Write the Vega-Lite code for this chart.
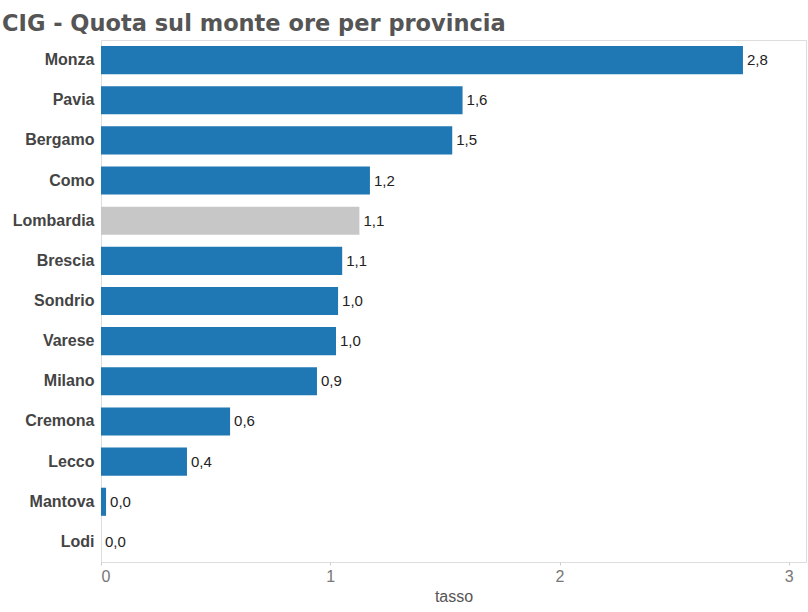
{
  "$schema": "https://vega.github.io/schema/vega-lite/v6.json",
  "width": 705,
  "height": 522,
  "autosize": "none",
  "padding": {"left": 101, "top": 40, "right": 2, "bottom": 50},
  "title": {
    "text": "CIG - Quota sul monte ore per provincia",
    "anchor": "start",
    "frame": "group",
    "dx": -99,
    "offset": -13,
    "baseline": "alphabetic",
    "font": "DejaVu Sans",
    "fontSize": 22.5,
    "fontWeight": "bold",
    "color": "#555555"
  },
  "data": {
    "values": [
      {"provincia": "Monza", "tasso": 2.80, "tipo": "provincia"},
      {"provincia": "Pavia", "tasso": 1.577, "tipo": "provincia"},
      {"provincia": "Bergamo", "tasso": 1.532, "tipo": "provincia"},
      {"provincia": "Como", "tasso": 1.173, "tipo": "provincia"},
      {"provincia": "Lombardia", "tasso": 1.127, "tipo": "regione"},
      {"provincia": "Brescia", "tasso": 1.052, "tipo": "provincia"},
      {"provincia": "Sondrio", "tasso": 1.034, "tipo": "provincia"},
      {"provincia": "Varese", "tasso": 1.025, "tipo": "provincia"},
      {"provincia": "Milano", "tasso": 0.942, "tipo": "provincia"},
      {"provincia": "Cremona", "tasso": 0.563, "tipo": "provincia"},
      {"provincia": "Lecco", "tasso": 0.375, "tipo": "provincia"},
      {"provincia": "Mantova", "tasso": 0.022, "tipo": "provincia"},
      {"provincia": "Lodi", "tasso": 0.0, "tipo": "provincia"}
    ]
  },
  "encoding": {
    "y": {
      "field": "provincia",
      "type": "nominal",
      "sort": "-x",
      "scale": {"paddingInner": 0.3, "paddingOuter": 0.15},
      "axis": {
        "title": null,
        "ticks": false,
        "domain": false,
        "grid": false,
        "labelFont": "Liberation Sans",
        "labelFontSize": 16,
        "labelFontWeight": "bold",
        "labelColor": "#444444",
        "labelPadding": 7
      }
    },
    "x": {
      "field": "tasso",
      "type": "quantitative",
      "scale": {"domain": [0, 3.075], "nice": false, "zero": true},
      "axis": {
        "title": "tasso",
        "values": [0, 1, 2, 3],
        "grid": false,
        "domain": false,
        "tickSize": 3,
        "tickColor": "#cccccc",
        "labelFlush": true,
        "labelFont": "Liberation Sans Narrow, Liberation Sans",
        "labelFontSize": 16,
        "labelColor": "#777777",
        "labelPadding": 3,
        "titleFont": "Liberation Sans Narrow, Liberation Sans",
        "titleFontSize": 16,
        "titleFontWeight": "normal",
        "titleColor": "#555555",
        "titlePadding": 4
      }
    }
  },
  "layer": [
    {
      "mark": {"type": "bar"},
      "encoding": {
        "color": {
          "field": "tipo",
          "type": "nominal",
          "scale": {"domain": ["provincia", "regione"], "range": ["#1f77b4", "#c7c7c7"]},
          "legend": null
        }
      }
    },
    {
      "mark": {
        "type": "text",
        "align": "left",
        "baseline": "middle",
        "dx": 4,
        "font": "Liberation Sans",
        "fontSize": 15,
        "color": "#222222"
      },
      "encoding": {
        "text": {"field": "tasso", "type": "quantitative", "format": ".1f"}
      }
    }
  ],
  "config": {
    "locale": {
      "number": {"decimal": ",", "thousands": ".", "grouping": [3], "currency": ["", " €"]}
    },
    "view": {"stroke": "#dddddd"},
    "background": "white"
  }
}
